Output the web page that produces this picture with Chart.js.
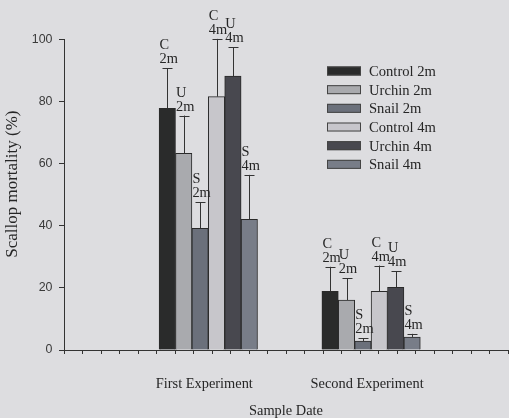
<!DOCTYPE html>
<html>
<head>
<meta charset="utf-8">
<script src="https://cdn.jsdelivr.net/npm/chart.js@4/dist/chart.umd.min.js"></script>
<style>
  html, body { margin: 0; padding: 0; background: #dddde0; }
  #wrap { width: 509px; height: 418px; position: relative; }
</style>
</head>
<body>
<div id="wrap"><canvas id="chart"></canvas></div>
<script>
// sample dates (position on the date axis) and their names
const experiments = ['First Experiment', 'Second Experiment'];
const sampleDates = [7.8, 16.6];

const seriesNames = ['Control 2m', 'Urchin 2m', 'Snail 2m', 'Control 4m', 'Urchin 4m', 'Snail 4m'];

// mean mortality (%) per experiment
const control2m = [77.8, 18.9];
const urchin2m = [63.3, 16.1];
const snail2m = [39.2, 2.9];
const control4m = [81.6, 18.9];
const urchin4m = [88.2, 20.2];
const snail4m = [42.1, 4.2];

// upper error (+ SE)
const control2mErr = [12.9, 7.9];
const urchin2mErr = [12.2, 7.0];
const snail2mErr = [8.4, 0.9];
const control4mErr = [18.6, 8.3];
const urchin4mErr = [9.3, 5.2];
const snail4mErr = [14.3, 1.0];

const yTicks = [0, 20, 40, 60, 80, 100];

const means = [control2m, urchin2m, snail2m, control4m, urchin4m, snail4m];
const errors = [control2mErr, urchin2mErr, snail2mErr, control4mErr, urchin4mErr, snail4mErr];
const colors = ['#2a2b2b', '#a9aaae', '#6b707b', '#c7c6cb', '#48484f', '#787d88'];

const serif = 'Liberation Serif, Times New Roman, serif';
const textColor = '#262626';
const axisColor = '#333';

const errorBars = {
  id: 'errorBars',
  afterDatasetsDraw(chart) {
    const { ctx, scales } = chart;
    ctx.save();
    ctx.strokeStyle = axisColor;
    ctx.lineWidth = 1;
    ctx.fillStyle = textColor;
    ctx.font = '14.4px ' + serif;
    ctx.textAlign = 'left';
    ctx.textBaseline = 'alphabetic';
    chart.data.datasets.forEach((ds, i) => {
      const meta = chart.getDatasetMeta(i);
      const [word, depth] = ds.label.split(' ');
      meta.data.forEach((bar, j) => {
        const top = scales.y.getPixelForValue(means[i][j] + errors[i][j]);
        const x = Math.round(bar.x) + 0.5;
        ctx.beginPath();
        ctx.moveTo(x, bar.y);
        ctx.lineTo(x, top);
        ctx.moveTo(x - 5, Math.round(top) + 0.5);
        ctx.lineTo(x + 5, Math.round(top) + 0.5);
        ctx.stroke();
        const left = bar.x - bar.width / 2 + 0.5;
        ctx.fillText(depth, left, top - 5);
        ctx.fillText(word[0], left, top - 19);
      });
    });
    ctx.restore();
  }
};

const boxLegend = {
  id: 'boxLegend',
  afterDraw(chart) {
    const { ctx } = chart;
    ctx.save();
    ctx.font = '14.6px ' + serif;
    ctx.textBaseline = 'middle';
    ctx.textAlign = 'left';
    chart.data.datasets.forEach((ds, i) => {
      const cy = 71 + i * 18.67;
      ctx.fillStyle = ds.backgroundColor;
      ctx.fillRect(327, cy - 4.5, 34, 9);
      ctx.strokeStyle = '#444';
      ctx.lineWidth = 1;
      ctx.strokeRect(327.5, cy - 4, 33, 8);
      ctx.fillStyle = textColor;
      ctx.fillText(ds.label, 369, cy + 1);
    });
    ctx.restore();
  }
};

new Chart(document.getElementById('chart'), {
  type: 'bar',
  data: {
    datasets: seriesNames.map((name, i) => ({
      label: name,
      data: sampleDates.map((d, j) => ({ x: d, y: means[i][j] })),
      backgroundColor: colors[i],
      borderColor: '#2a2a2a',
      borderWidth: 1,
      barThickness: 16.4
    }))
  },
  options: {
    responsive: true,
    maintainAspectRatio: false,
    animation: false,
    layout: { padding: { top: 39.5, right: 1, left: 0, bottom: 0 } },
    plugins: {
      legend: { display: false },
      tooltip: { enabled: false }
    },
    scales: {
      x: {
        type: 'linear',
        min: 0,
        max: 24,
        offset: false,
        weight: 0,
        ticks: { display: false, stepSize: 1 },
        grid: { drawOnChartArea: false, tickLength: 4, color: axisColor, offset: false },
        border: { color: axisColor }
      },
      xl: {
        type: 'linear',
        position: 'bottom',
        min: 0,
        max: 24,
        offset: false,
        weight: 1,
        grid: { display: false },
        border: { display: false },
        afterBuildTicks: scale => { scale.ticks = sampleDates.map(v => ({ value: v })); },
        afterFit: scale => { scale.height = 64; },
        ticks: {
          autoSkip: false,
          maxRotation: 0,
          padding: 13.5,
          labelOffset: -4,
          color: textColor,
          font: { family: serif, size: 14.4 },
          callback: (value, index) => experiments[index]
        },
        title: {
          display: true,
          text: 'Sample Date',
          color: textColor,
          font: { family: serif, size: 14.4, lineHeight: 1 },
          padding: { top: 0, bottom: 0 }
        }
      },
      y: {
        min: 0,
        max: 100,
        afterBuildTicks: scale => { scale.ticks = yTicks.map(v => ({ value: v })); },
        afterFit: scale => { scale.width = 64; },
        ticks: {
          padding: 6.5,
          color: '#3a3a3a',
          font: { family: 'Liberation Sans, Arial, sans-serif', size: 12.4 }
        },
        grid: { drawOnChartArea: false, tickLength: 5, color: axisColor },
        border: { color: axisColor },
        title: {
          display: true,
          // leading spaces lift the centred title the way the original sits
          text: '     Scallop mortality (%)',
          color: textColor,
          font: { family: serif, size: 17, lineHeight: 1 },
          padding: { top: 4.5, bottom: 0 }
        }
      }
    }
  },
  plugins: [errorBars, boxLegend]
});
</script>
</body>
</html>
